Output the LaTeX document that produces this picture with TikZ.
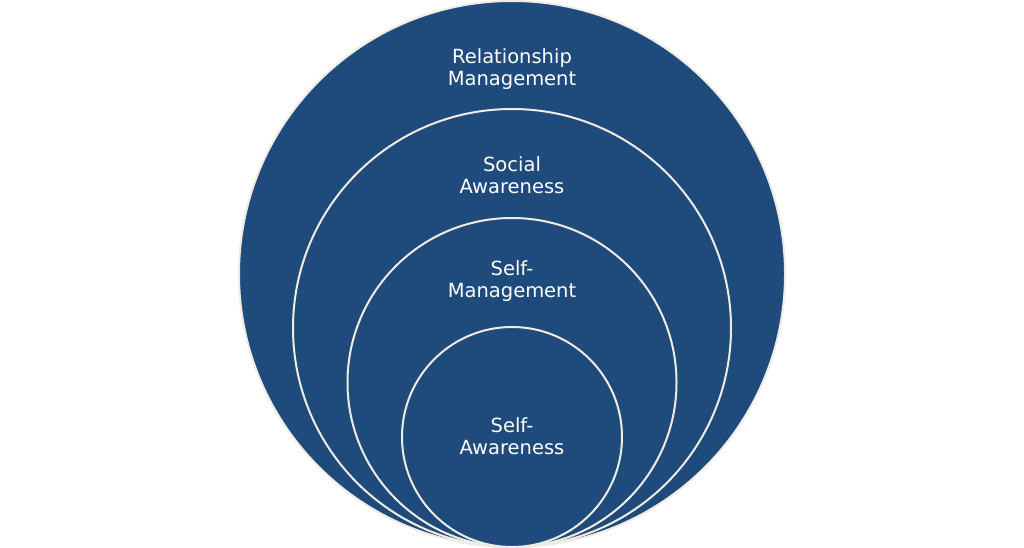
\documentclass[tikz,border=0pt]{standalone}
\usepackage{fontspec}
\setmainfont{DejaVu Sans}
\definecolor{fillblue}{HTML}{1F4A7C}
\definecolor{ringline}{HTML}{EFEDE3}
\begin{document}
\begin{tikzpicture}[x=1pt,y=-1pt,
  ring/.style={fill=fillblue,draw=ringline,line width=2pt},
  lbl/.style={text=white,align=center,font=\fontsize{19.5}{21.5}\selectfont,inner sep=0pt}]
\useasboundingbox (0,0) rectangle (1024,548);
\fill[white] (0,0) rectangle (1024,548);
\draw[ring] (512,274) circle[radius=273];
\draw[ring] (512,328) circle[radius=219];
\draw[ring] (512,382.5) circle[radius=164.5];
\draw[ring] (512,437) circle[radius=110];
\node[lbl] (rm) at (512,69) {Relationship\\Management};
\node[lbl] (sa) at (512,175) {Social\\Awareness};
\node[lbl] (sm) at (512,281) {Self-\\Management};
\node[lbl] (self) at (512,436) {Self-\\Awareness};
\end{tikzpicture}
\end{document}
